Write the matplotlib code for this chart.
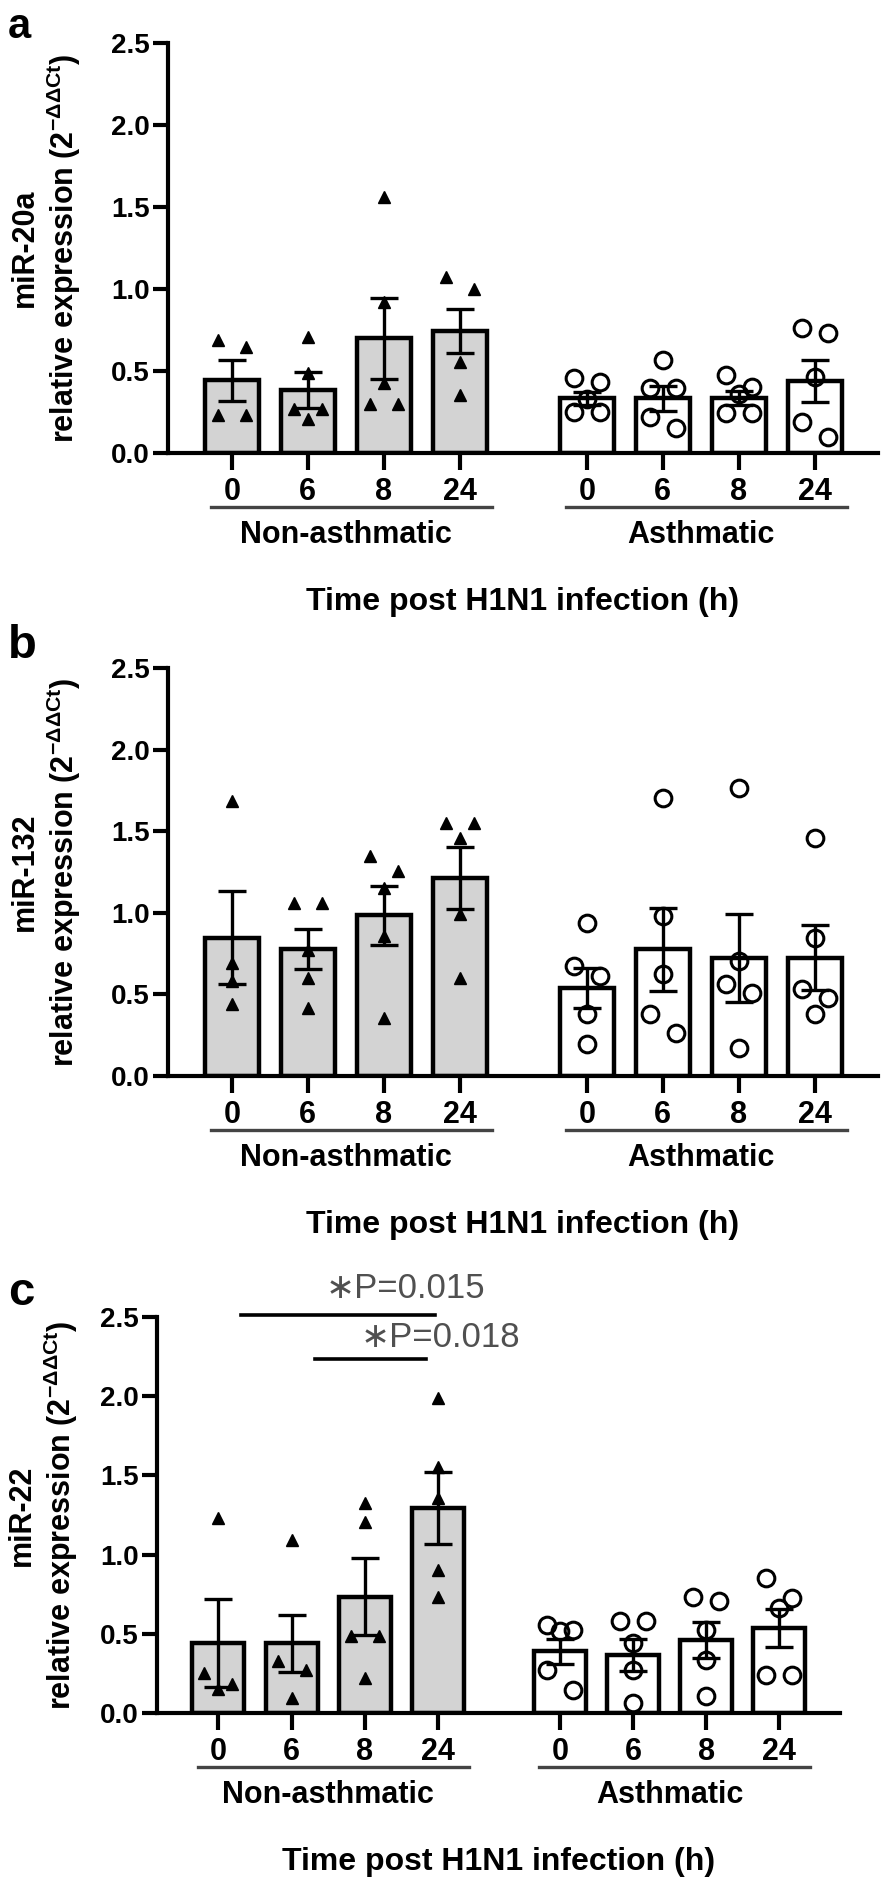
import numpy as np
import matplotlib
matplotlib.use('Agg')
import matplotlib.pyplot as plt
import matplotlib.transforms as mtransforms

plt.rcParams['font.family'] = ['Liberation Sans', 'DejaVu Sans']
plt.rcParams['mathtext.fontset'] = 'custom'
plt.rcParams['mathtext.rm'] = 'Liberation Sans'
plt.rcParams['mathtext.it'] = 'Liberation Sans:italic'
plt.rcParams['mathtext.bf'] = 'Liberation Sans:bold'

# ── data ──
TIMES = ['0', '6', '8', '24']
GROUPS = ['Non-asthmatic', 'Asthmatic']
XLABEL = 'Time post H1N1 infection (h)'

# miR-20a
A_NON_PTS = [[0.69, 0.645, 0.23, 0.23],
             [0.71, 0.49, 0.27, 0.27, 0.21],
             [1.56, 0.92, 0.425, 0.30, 0.30],
             [1.075, 0.998, 0.557, 0.354]]
A_NON_MEAN = [0.445, 0.384, 0.699, 0.744]
A_NON_SEM = [0.125, 0.11, 0.245, 0.135]
A_ASTH_PTS = [[0.455, 0.435, 0.33, 0.252, 0.252],
              [0.567, 0.394, 0.394, 0.22, 0.15],
              [0.476, 0.404, 0.36, 0.242, 0.242],
              [0.76, 0.734, 0.465, 0.191, 0.10]]
A_ASTH_MEAN = [0.333, 0.333, 0.335, 0.439]
A_ASTH_SEM = [0.04, 0.075, 0.045, 0.13]

# miR-132
B_NON_PTS = [[1.684, 0.694, 0.582, 0.439],
             [1.062, 1.062, 0.77, 0.602, 0.419],
             [1.347, 1.255, 1.154, 0.857, 0.357],
             [1.552, 1.552, 1.46, 0.99, 0.602]]
B_NON_MEAN = [0.847, 0.776, 0.984, 1.215]
B_NON_SEM = [0.285, 0.122, 0.18, 0.19]
B_ASTH_PTS = [[0.939, 0.673, 0.612, 0.378, 0.194],
              [1.705, 0.98, 0.623, 0.378, 0.266],
              [1.766, 0.704, 0.562, 0.511, 0.174],
              [1.46, 0.847, 0.531, 0.48, 0.378]]
B_ASTH_MEAN = [0.541, 0.776, 0.725, 0.725]
B_ASTH_SEM = [0.122, 0.255, 0.27, 0.20]

# miR-22
C_NON_PTS = [[1.23, 0.25, 0.18, 0.15],
             [1.09, 0.33, 0.27, 0.095],
             [1.324, 1.208, 0.483, 0.483, 0.221],
             [1.986, 1.555, 1.356, 0.904, 0.735]]
C_NON_MEAN = [0.441, 0.441, 0.735, 1.293]
C_NON_SEM = [0.278, 0.18, 0.242, 0.226]
C_ASTH_PTS = [[0.557, 0.525, 0.52, 0.273, 0.147],
              [0.578, 0.578, 0.441, 0.273, 0.063],
              [0.735, 0.704, 0.525, 0.336, 0.105],
              [0.851, 0.725, 0.662, 0.241, 0.241]]
C_ASTH_MEAN = [0.389, 0.368, 0.462, 0.536]
C_ASTH_SEM = [0.08, 0.10, 0.115, 0.12]

C_PVALS = ['0.015', '0.018']

# ── layout ──
W, H = 894, 1880
X_NON = np.array([0, 1, 2, 3])
X_ASTH = np.array([4.67, 5.67, 6.67, 7.67])
XLIM = (-0.84, 8.5)
BAR_W = 0.71
GRAY = '#d3d3d3'
FS = 22

POS = {
    'a': [168 / W, 1 - 453 / H, 710 / W, 410 / H],
    'b': [168 / W, 1 - 1076 / H, 710 / W, 408 / H],
    'c': [157 / W, 1 - 1713 / H, 683 / W, 396 / H],
}


def swarm_x(ax, xc, vals, thr_px, step_px):
    """GraphPad-like spreading of points that sit close in y."""
    vals = np.asarray(vals, float)
    order = np.argsort(-vals, kind='stable')
    ypx = ax.transData.transform(np.column_stack([np.zeros(len(vals)), vals]))[:, 1]
    px_per_unit = (ax.transData.transform((1, 0))[0] - ax.transData.transform((0, 0))[0])
    step = step_px / px_per_unit
    clusters = [[order[0]]]
    for k in order[1:]:
        if ypx[clusters[-1][-1]] - ypx[k] < thr_px:
            clusters[-1].append(k)
        else:
            clusters.append([k])
    xs = np.full(len(vals), float(xc))
    for cl in clusters:
        if len(cl) == 1:
            continue
        slots = [-1, 1, 0] if len(cl) >= 3 else [-1, 1]
        for j, k in enumerate(cl):
            xs[k] = xc + slots[j % len(slots)] * step
    return xs


def draw_panel(fig, key, ylab, non_pts, non_mean, non_sem, asth_pts, asth_mean, asth_sem):
    ax = fig.add_axes(POS[key])
    ax.set_xlim(*XLIM)
    ax.set_ylim(0, 2.5)

    ax.bar(X_NON, non_mean, width=BAR_W, color=GRAY, edgecolor='black', linewidth=3.2, zorder=1)
    ax.bar(X_ASTH, asth_mean, width=BAR_W, color='white', edgecolor='black', linewidth=3.2, zorder=1)
    ax.errorbar(X_NON, non_mean, yerr=non_sem, fmt='none', ecolor='black',
                elinewidth=2.4, capsize=10, capthick=2.4, zorder=2)
    ax.errorbar(X_ASTH, asth_mean, yerr=asth_sem, fmt='none', ecolor='black',
                elinewidth=2.4, capsize=10, capthick=2.4, zorder=2)

    for xc, pts in zip(X_NON, non_pts):
        xs = swarm_x(ax, xc, pts, 18, 14)
        ax.plot(xs, pts, ls='none', marker='^', ms=9, color='black', zorder=3, clip_on=False)
    for xc, pts in zip(X_ASTH, asth_pts):
        xs = swarm_x(ax, xc, pts, 20, 13)
        ax.plot(xs, pts, ls='none', marker='o', ms=12, mfc='none', mec='black',
                mew=2.2, zorder=3, clip_on=False)

    for s in ['top', 'right']:
        ax.spines[s].set_visible(False)
    for s in ['left', 'bottom']:
        ax.spines[s].set_linewidth(3.0)
    ax.set_yticks(np.arange(0, 2.51, 0.5))
    ax.set_yticklabels([f'{v:.1f}' for v in np.arange(0, 2.51, 0.5)],
                       fontsize=20, fontweight='bold')
    ax.tick_params(axis='y', length=11, width=3.0, pad=2)
    ax.set_xticks(np.concatenate([X_NON, X_ASTH]))
    ax.set_xticklabels(TIMES + TIMES, fontsize=FS, fontweight='bold')
    ax.tick_params(axis='x', length=12, width=3.0, pad=5)

    ax.set_ylabel(ylab + '\nrelative expression (2$^{\\mathregular{-ΔΔCt}}$)',
                  fontsize=FS, fontweight='bold', linespacing=1.15)
    ax.yaxis.set_label_coords(-0.12 if key != 'c' else -0.113, 0.5)

    # group bars, group names and the common x title below the axis
    base = mtransforms.blended_transform_factory(ax.transData, ax.transAxes)
    line_tr = mtransforms.offset_copy(base, fig=fig, y=-54, units='dots')
    name_tr = mtransforms.offset_copy(base, fig=fig, y=-82, units='dots')
    title_tr = mtransforms.offset_copy(base, fig=fig, y=-149, units='dots')
    for xs, name in zip([X_NON, X_ASTH], GROUPS):
        ax.plot([xs[0] - 0.28, xs[-1] + 0.42], [0, 0], color='#444444', lw=2.4,
                transform=line_tr, clip_on=False)
        ax.text((xs[0] + xs[-1]) / 2, 0, name, transform=name_tr, ha='center', va='center',
                fontsize=FS, fontweight='bold')
    ax.text(np.mean(XLIM), 0, XLABEL, transform=title_tr, ha='center', va='center',
            fontsize=FS + 1, fontweight='bold')
    return ax


fig = plt.figure(figsize=(W / 100, H / 100), dpi=100)
fig.patch.set_facecolor('white')

draw_panel(fig, 'a', 'miR-20a', A_NON_PTS, A_NON_MEAN, A_NON_SEM, A_ASTH_PTS, A_ASTH_MEAN, A_ASTH_SEM)
draw_panel(fig, 'b', 'miR-132', B_NON_PTS, B_NON_MEAN, B_NON_SEM, B_ASTH_PTS, B_ASTH_MEAN, B_ASTH_SEM)
axc = draw_panel(fig, 'c', 'miR-22', C_NON_PTS, C_NON_MEAN, C_NON_SEM, C_ASTH_PTS, C_ASTH_MEAN, C_ASTH_SEM)

# significance brackets in panel c
axc.plot([0.31, 2.96], [2.51, 2.51], color='black', lw=2.6, clip_on=False)
axc.plot([1.32, 2.84], [2.234, 2.234], color='black', lw=2.6, clip_on=False)
axc.text(1.46, 2.68, '∗P=' + C_PVALS[0], ha='left', va='center', fontsize=25,
         color='#505050', family=['Liberation Sans', 'DejaVu Sans'], clip_on=False)
axc.text(1.94, 2.37, '∗P=' + C_PVALS[1], ha='left', va='center', fontsize=25,
         color='#505050', family=['Liberation Sans', 'DejaVu Sans'], clip_on=False)

# panel letters
for lab, ybase in [('a', 38), ('b', 658), ('c', 1305)]:
    fig.text(8 / W, 1 - ybase / H, lab, fontsize=30 if lab == 'a' else 34,
             fontweight='bold', ha='left', va='baseline')

fig.savefig('out.png', dpi=100, facecolor='white')
